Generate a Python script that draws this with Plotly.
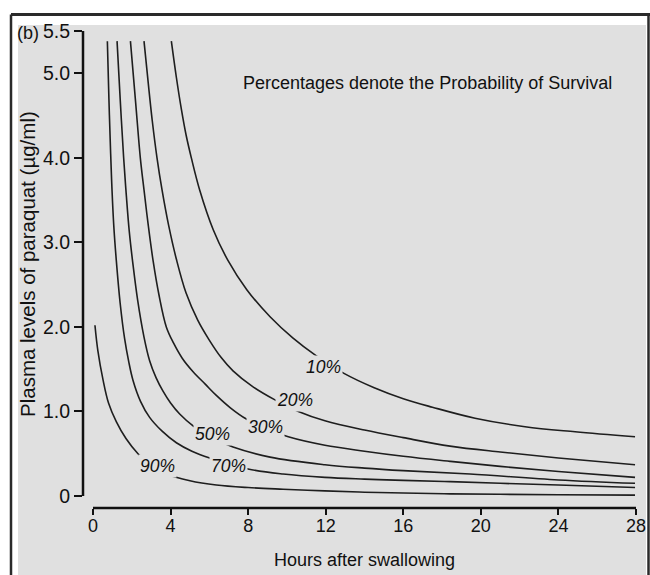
import plotly.graph_objects as go

# ---------------- data ----------------
x_ticks = [0, 4, 8, 12, 16, 20, 24, 28]
y_tick_vals = [0, 1, 2, 3, 4, 5, 5.5]
y_tick_text = ["0", "1.0", "2.0", "3.0", "4.0", "5.0", "5.5"]

hours_10 = [4.04, 4.30, 4.56, 4.80, 5.07, 5.50, 6.20, 6.95, 7.93, 9.13, 10.30, 11.50, 12.94, 14.50, 16.0, 17.5, 19.7, 22.28, 24.86, 27.95]
plasma_10 = [5.38, 4.95, 4.57, 4.27, 4.00, 3.62, 3.15, 2.79, 2.44, 2.12, 1.87, 1.66, 1.45, 1.28, 1.15, 1.05, 0.92, 0.82, 0.76, 0.70]

hours_20 = [2.63, 2.85, 3.05, 3.30, 3.56, 3.90, 4.30, 4.80, 5.40, 5.98, 6.60, 7.22, 8.20, 9.36, 10.59, 11.96, 14.0, 16.0, 18.41, 21.0, 24.0, 27.95]
plasma_20 = [5.38, 4.88, 4.45, 4.00, 3.62, 3.20, 2.80, 2.40, 2.08, 1.85, 1.64, 1.48, 1.30, 1.14, 1.00, 0.89, 0.78, 0.69, 0.59, 0.52, 0.45, 0.37]

hours_30 = [1.93, 2.20, 2.44, 2.63, 2.85, 3.10, 3.40, 3.78, 4.15, 4.60, 5.16, 5.80, 6.36, 7.10, 7.91, 9.00, 10.07, 11.96, 14.0, 16.0, 18.41, 21.0, 24.0, 27.95]
plasma_30 = [5.38, 4.65, 4.00, 3.62, 3.20, 2.78, 2.38, 2.00, 1.81, 1.63, 1.47, 1.32, 1.19, 1.04, 0.91, 0.79, 0.70, 0.60, 0.53, 0.47, 0.41, 0.35, 0.29, 0.22]

hours_50 = [1.24, 1.40, 1.58, 1.72, 1.87, 2.05, 2.30, 2.63, 2.92, 3.25, 3.61, 4.00, 4.47, 5.16, 6.10, 7.22, 9.13, 11.96, 14.0, 16.0, 19.44, 24.0, 27.95]
plasma_50 = [5.38, 4.70, 4.00, 3.55, 3.13, 2.76, 2.32, 1.88, 1.60, 1.40, 1.24, 1.10, 0.97, 0.83, 0.69, 0.58, 0.46, 0.37, 0.33, 0.30, 0.26, 0.19, 0.15]

hours_70 = [0.74, 0.82, 0.91, 0.98, 1.07, 1.20, 1.40, 1.63, 1.85, 2.06, 2.45, 2.92, 3.55, 4.30, 5.10, 6.02, 7.99, 9.80, 11.96, 14.0, 16.0, 18.41, 21.0, 24.0, 27.95]
plasma_70 = [5.38, 4.70, 4.05, 3.62, 3.20, 2.79, 2.28, 1.86, 1.58, 1.37, 1.12, 0.93, 0.77, 0.63, 0.53, 0.45, 0.32, 0.26, 0.22, 0.20, 0.185, 0.17, 0.15, 0.13, 0.10]

hours_90 = [0.10, 0.25, 0.52, 0.80, 1.20, 1.70, 2.32, 3.00, 3.78, 5.00, 6.36, 8.00, 9.80, 11.96, 14.0, 16.0, 18.41, 21.0, 24.0, 27.95]
plasma_90 = [2.02, 1.72, 1.37, 1.10, 0.88, 0.68, 0.50, 0.36, 0.26, 0.18, 0.13, 0.10, 0.08, 0.06, 0.045, 0.035, 0.025, 0.02, 0.015, 0.01]

curve_labels = ["10%", "20%", "30%", "50%", "70%", "90%"]
label_hours = [11.91, 10.42, 8.92, 6.14, 7.01, 3.30]
label_plasma = [1.52, 1.14, 0.82, 0.73, 0.36, 0.36]

x_title = "Hours after swallowing"
y_title = "Plasma levels of paraquat (µg/ml)"
note = "Percentages denote the Probability of Survival"
panel = "(b)"

# ---------------- layout geometry ----------------
W, H = 650, 575
L, R, T, B = 83, 14, 31, 67
X_LO, X_HI = -0.516, 28
Y_LO, Y_HI = -0.142, 5.5
GREY = "#e0e0e0"
FONT = "Liberation Sans, Arial, Helvetica, sans-serif"


def px(xw, yw):
    """window pixel -> paper coordinates"""
    return (xw - L) / (W - L - R), ((H - B) - yw) / (H - T - B)


fig = go.Figure()
for hx, pv in [(hours_10, plasma_10), (hours_20, plasma_20), (hours_30, plasma_30),
               (hours_50, plasma_50), (hours_70, plasma_70), (hours_90, plasma_90)]:
    fig.add_trace(go.Scatter(x=hx, y=pv, mode="lines",
                             line=dict(color="#1e1e1e", width=1.6, shape="spline", smoothing=1.0),
                             hoverinfo="skip", showlegend=False))

annotations = []
for t, hx, pv in zip(curve_labels, label_hours, label_plasma):
    annotations.append(dict(x=hx, y=pv, xref="x", yref="y", text="<i>%s</i>" % t,
                            showarrow=False, font=dict(size=17.5, color="#111", family=FONT),
                            bgcolor=GREY, borderpad=1))

ax, ay = px(364, 560)
annotations.append(dict(x=ax, y=ay, xref="paper", yref="paper", text=x_title, showarrow=False,
                        font=dict(size=18, color="#111", family=FONT), xanchor="center", yanchor="middle"))
ax, ay = px(27, 264)
annotations.append(dict(x=ax, y=ay, xref="paper", yref="paper", text=y_title, showarrow=False,
                        textangle=-90, font=dict(size=20.5, color="#111", family=FONT),
                        xanchor="center", yanchor="middle"))
ax, ay = px(427, 83)
annotations.append(dict(x=ax, y=ay, xref="paper", yref="paper", text=note, showarrow=False,
                        font=dict(size=18, color="#111", family=FONT), xanchor="center", yanchor="middle"))
ax, ay = px(28, 33)
annotations.append(dict(x=ax, y=ay, xref="paper", yref="paper", text=panel, showarrow=False,
                        font=dict(size=18, color="#111", family=FONT), xanchor="center", yanchor="middle"))

shapes = []
# grey panel
gx0, gy0 = px(18, 576)
gx1, gy1 = px(646, 25)
shapes.append(dict(type="rect", xref="paper", yref="paper", x0=gx0, y0=gy0, x1=gx1, y1=gy1,
                   fillcolor=GREY, line=dict(width=0), layer="below"))
# black frame (top, left, right)
bx0, by_top = px(11, 14.5)
bx1, by_bot = px(648.5, 577)
bxe, _ = px(651, 14.5)
shapes.append(dict(type="line", xref="paper", yref="paper", x0=bx0, y0=by_top, x1=bxe, y1=by_top,
                   line=dict(color="#2a2a2a", width=3)))
shapes.append(dict(type="line", xref="paper", yref="paper", x0=bx0, y0=by_top, x1=bx0, y1=by_bot,
                   line=dict(color="#2a2a2a", width=2.5)))
shapes.append(dict(type="line", xref="paper", yref="paper", x0=bx1, y0=by_top, x1=bx1, y1=by_bot,
                   line=dict(color="#2a2a2a", width=2.5)))
# detached axis lines
x0f = (0 - X_LO) / (X_HI - X_LO)
y0f = (0 - Y_LO) / (Y_HI - Y_LO)
shapes.append(dict(type="line", xref="x domain", yref="y domain", x0=x0f, y0=0, x1=1, y1=0,
                   line=dict(color="#111", width=2.5)))
shapes.append(dict(type="line", xref="x domain", yref="y domain", x0=0, y0=y0f, x1=0, y1=1,
                   line=dict(color="#111", width=2.5)))

fig.update_layout(
    width=W, height=H,
    margin=dict(l=L, r=R, t=T, b=B, autoexpand=False),
    paper_bgcolor="white", plot_bgcolor="rgba(0,0,0,0)",
    font=dict(family=FONT, color="#111"),
    annotations=annotations, shapes=shapes,
    xaxis=dict(range=[X_LO, X_HI], tickvals=x_ticks, ticktext=[str(v) for v in x_ticks],
               ticks="outside", ticklen=6, tickwidth=2, tickcolor="#111",
               ticklabelstandoff=-5,
               showgrid=False, zeroline=False, showline=False,
               tickfont=dict(size=18, color="#111", family=FONT)),
    yaxis=dict(range=[Y_LO, Y_HI], tickvals=y_tick_vals, ticktext=y_tick_text,
               ticks="outside", ticklen=8, tickwidth=2, tickcolor="#111",
               showgrid=False, zeroline=False, showline=False,
               tickfont=dict(size=19.5, color="#111", family=FONT)),
)

fig.write_html("out.html", config={"displayModeBar": False, "staticPlot": True},
               post_script="document.body.style.margin='0';document.body.style.overflow='hidden';")
